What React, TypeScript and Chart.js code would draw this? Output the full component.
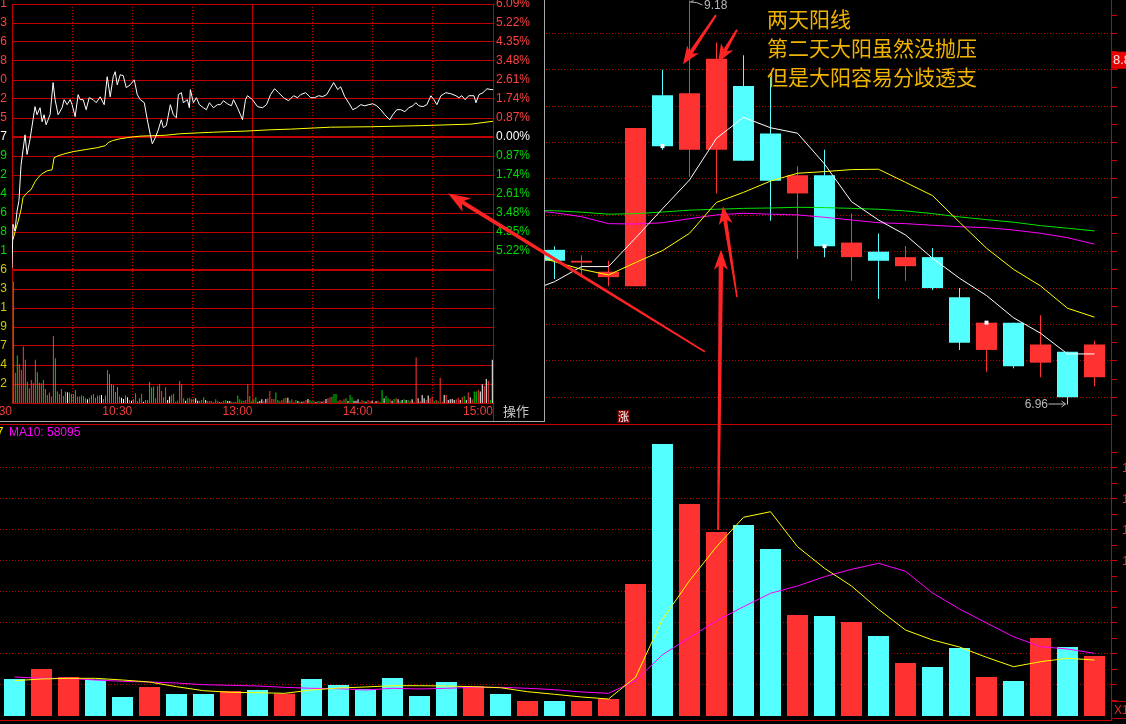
import React, { useEffect, useRef } from 'react';
import { Chart, registerables } from 'chart.js';

Chart.register(...registerables);

/* ===================== daily K-line (days 20..40 are visible; 0..19 lie under the intraday panel) ===================== */
const CANDLE_DAYS = [20, 21, 22, 23, 24, 25, 26, 27, 28, 29, 30, 31, 32, 33, 34, 35, 36, 37, 38, 39, 40];
const OPEN = [7.81, 7.74, 7.66, 7.61, 8.66, 8.36, 8.36, 8.71, 8.45, 8.12, 8.22, 7.77, 7.80, 7.72, 7.77, 7.55, 7.26, 7.41, 7.19, 7.25, 7.11];
const HIGH = [7.83, 7.78, 7.75, 8.48, 8.80, 9.18, 8.95, 8.88, 8.76, 8.27, 8.36, 8.01, 7.90, 7.83, 7.82, 7.60, 7.41, 7.41, 7.45, 7.25, 7.31];
const LOW = [7.65, 7.66, 7.61, 7.61, 8.36, 8.21, 8.12, 8.30, 7.97, 7.76, 7.77, 7.64, 7.54, 7.64, 7.59, 7.26, 7.14, 7.16, 7.11, 6.96, 7.06];
const CLOSE = [7.75, 7.75, 7.69, 8.48, 8.38, 8.67, 8.86, 8.30, 8.19, 8.22, 7.83, 7.85, 7.75, 7.77, 7.60, 7.30, 7.41, 7.17, 7.29, 7.00, 7.29];

const MA_DAYS = [19, 20, 21, 22, 23, 24, 25, 26, 27, 28, 29, 30, 31, 32, 33, 34, 35, 36, 37, 38, 39, 40];
const MA5 = [7.579, 7.635, 7.718, 7.718, 7.875, 8.036, 8.194, 8.423, 8.538, 8.481, 8.451, 8.282, 8.075, 7.974, 7.892, 7.764, 7.654, 7.559, 7.437, 7.352, 7.238, 7.238];
const MA10 = [7.793, 7.745, 7.703, 7.672, 7.740, 7.806, 7.901, 8.071, 8.126, 8.188, 8.231, 8.240, 8.251, 8.253, 8.181, 8.108, 7.962, 7.819, 7.703, 7.612, 7.489, 7.440];
const MA20 = [8.026, 8.025, 8.017, 8.006, 8.009, 8.018, 8.028, 8.033, 8.038, 8.040, 8.044, 8.042, 8.038, 8.033, 8.024, 8.009, 7.991, 7.976, 7.962, 7.943, 7.929, 7.914];
const MA60 = [8.029, 8.014, 7.992, 7.954, 7.952, 7.959, 7.981, 8.002, 8.011, 8.006, 8.002, 7.989, 7.974, 7.959, 7.954, 7.945, 7.937, 7.932, 7.919, 7.901, 7.877, 7.841];

const MARKED_DAYS = [24, 30, 36];
const SELECTED_DAY = 26; // day shown in the intraday panel
const LIMIT_UP_DAY = 23;
const PRICE_TICKS = [6.9, 7.0, 7.1, 7.2, 7.3, 7.4, 7.5, 7.6, 7.7, 7.8, 7.9, 8.0, 8.1, 8.2, 8.3, 8.4, 8.5, 8.6, 8.7, 8.8, 8.9, 9.0, 9.1];

/* ===================== daily volume ===================== */
const VOL_DAYS = [0, 1, 2, 3, 4, 5, 6, 7, 8, 9, 10, 11, 12, 13, 14, 15, 16, 17, 18, 19, 20, 21, 22, 23, 24, 25, 26, 27, 28, 29, 30, 31, 32, 33, 34, 35, 36, 37, 38, 39, 40];
const VOLUME = [23870, 30320, 25160, 23420, 12260, 18710, 14190, 14190, 16130, 16770, 14390, 23870, 20000, 17420, 24520, 12900, 21940, 19160, 14190, 9680, 9680, 9680, 10970, 85160, 175490, 136780, 118710, 123230, 107750, 65160, 64520, 60650, 51620, 34190, 31610, 43870, 25160, 22580, 50320, 44520, 38710];
const DAY_DIR = [-1, 1, 1, -1, -1, 1, -1, -1, 1, -1, 1, -1, -1, -1, -1, -1, -1, 1, -1, 1, -1, 1, 1, 1, -1, 1, 1, -1, -1, 1, -1, 1, -1, 1, -1, -1, 1, -1, 1, -1, 1];
const VOL_MA5 = [22770, 23870, 24300, 24300, 23220, 21930, 18900, 16320, 15290, 15030, 14640, 16770, 18060, 18710, 19540, 19540, 19350, 18900, 18250, 15670, 14000, 12260, 10970, 24960, 62370, 87270, 109200, 128160, 131770, 109200, 95270, 83850, 68820, 55470, 49020, 44510, 37860, 31800, 35020, 37220, 36120];
const VOL_MA10 = [25160, 24300, 24300, 23220, 22370, 21930, 21290, 20200, 19800, 19350, 18500, 17860, 17630, 16770, 17860, 17420, 17860, 18500, 18500, 17860, 17000, 15480, 14640, 22770, 39540, 50500, 61470, 70500, 79140, 83850, 89850, 94620, 98490, 93330, 79340, 69020, 59990, 51150, 44700, 43220, 40440];
const VOL_TICKS = [10000, 20000, 30000, 40000, 50000, 60000, 70000, 80000, 90000, 100000, 110000, 120000, 130000, 140000, 150000, 160000, 170000];

/* ===================== intraday panel (day 26) ===================== */
const PCT_TICKS = [6.09, 5.22, 4.35, 3.48, 2.61, 1.74, 0.87, 0, -0.87, -1.74, -2.61, -3.48, -4.35, -5.22];
const PCT_LEFT_LABELS = ['9.21', '9.13', '9.06', '8.98', '8.90', '8.82', '8.75', '8.67', '8.59', '8.52', '8.44', '8.36', '8.28', '8.21'];
const INTRA_VOL_TICKS = [7926, 6793, 5661, 4529, 3397, 2264, 1132];
const TIME_TICKS = [0, 30, 60, 90, 120, 150, 180, 210, 240];
const TIME_LABELS = ['9:30', '', '10:30', '', '13:00', '', '14:00', '', '15:00'];
const SESSION_BREAKS = [0, 120, 240];

const INTRA_MIN = [0, 0.5, 1.5, 2.5, 3.5, 4.5, 5.5, 6.5, 7.5, 9, 10.5, 11.5, 12.5, 14, 15, 16, 17, 19, 20.5, 21.5, 23, 25, 26, 27.5, 29, 30, 31.5, 33, 34, 35.5, 37, 38.5, 40.5, 42, 44, 46, 47.5, 49, 50.5, 51.5, 52.5, 54, 55.5, 57, 59, 61, 62.5, 64, 66, 67.5, 69, 70, 71.5, 73, 74.5, 75.5, 77, 79, 80.5, 82, 83, 84.5, 85.5, 87.5, 88.5, 89, 90.5, 92, 93.5, 95.5, 97, 98.5, 100.5, 102.5, 104, 105.5, 107.5, 109.5, 110.5, 112.5, 114, 115, 116.5, 117.5, 120, 122.5, 125, 127, 129, 131, 133, 135.5, 138, 140.5, 142.5, 144, 146.5, 149, 151, 153, 155, 157, 160.5, 162.5, 164, 166, 168, 170, 172, 174, 176, 178, 180, 182, 184, 186, 188.5, 190, 192, 194, 196, 198, 200, 201.5, 203, 205, 207, 209, 210.5, 212, 214, 216.5, 219, 221.5, 223, 224.5, 226, 228, 230.5, 231.5, 233, 235, 237, 239, 240];
const INTRA_PCT = [-6.0, -4.0, -4.3, -3.4, -2.9, -1.3, -0.6, 0.1, -0.8, -0.1, 0.8, 1.39, 1.02, 1.34, 0.70, 1.02, 0.56, 1.02, 2.49, 1.71, 1.02, 1.34, 1.71, 1.48, 1.71, 1.48, 0.93, 1.94, 1.71, 1.71, 1.25, 1.80, 1.71, 1.57, 1.84, 1.48, 2.76, 1.84, 2.76, 2.99, 2.39, 2.85, 2.81, 2.26, 2.39, 2.62, 1.94, 1.71, 1.57, 0.79, 0.11, -0.31, -0.03, 0.33, 0.79, 0.43, 0.52, 1.48, 1.02, 0.88, 1.94, 2.03, 1.57, 1.71, 1.34, 2.17, 1.57, 1.80, 1.48, 1.34, 1.25, 1.57, 1.34, 1.48, 1.48, 1.66, 1.52, 1.43, 1.71, 1.34, 1.02, 0.79, 1.71, 1.89, 1.71, 1.39, 1.34, 1.48, 1.94, 2.21, 2.03, 1.80, 1.66, 1.89, 1.80, 1.94, 2.03, 1.80, 1.80, 1.89, 1.85, 1.94, 2.49, 2.17, 2.30, 1.85, 1.57, 1.25, 1.34, 1.48, 1.43, 1.48, 1.52, 1.43, 1.25, 1.02, 0.79, 1.02, 1.25, 1.25, 1.16, 1.34, 1.43, 1.57, 1.43, 1.39, 1.48, 1.89, 1.71, 1.48, 1.89, 2.03, 1.98, 1.89, 1.80, 1.89, 1.71, 1.89, 1.89, 1.57, 1.94, 2.03, 2.21, 2.17, 2.17];
const AVG_MIN = [0.5, 1.5, 3, 4.5, 5.5, 7.5, 9.5, 11.5, 13, 15, 17.5, 20, 21, 23, 26.5, 30.5, 36.5, 42.5, 46.5, 48, 50, 54, 59, 64, 76.5, 84, 100.5, 116.5, 129, 139, 159, 179, 204, 229, 240];
const AVG_PCT = [-4.70, -4.34, -3.88, -3.33, -2.77, -2.55, -2.41, -2.05, -1.86, -1.68, -1.55, -1.50, -0.95, -0.86, -0.76, -0.67, -0.58, -0.49, -0.40, -0.26, -0.17, -0.08, -0.01, 0.04, 0.08, 0.15, 0.22, 0.27, 0.33, 0.36, 0.45, 0.47, 0.52, 0.59, 0.72];
const INTRA_VOL = [
  7240, 1810, 2830, 2330, 1970, 3360, 2570, 1270, 880, 1370, 1170, 2570, 1830, 1210, 1170, 1370, 840, 480, 620, 380,
  4000, 2670, 680, 540, 840, 420, 680, 640, 620, 540, 520, 780, 380, 380, 440, 420, 280, 220, 320, 460,
  540, 320, 440, 440, 480, 240, 440, 1970, 1730, 1130, 1070, 660, 960, 380, 320, 240, 440, 340, 180, 140,
  220, 580, 120, 280, 540, 80, 180, 180, 1250, 920, 980, 280, 1010, 1130, 720, 340, 940, 180, 380, 480,
  540, 80, 140, 1310, 1110, 280, 140, 280, 320, 220, 240, 280, 140, 140, 180, 340, 180, 120, 120, 120,
  60, 220, 120, 40, 80, 140, 180, 120, 120, 80, 60, 80, 440, 220, 140, 140, 180, 1110, 420, 120,
  220, 340, 80, 120, 220, 140, 240, 280, 720, 240, 240, 620, 180, 120, 180, 280, 320, 320, 140, 220,
  80, 180, 120, 80, 80, 120, 180, 240, 180, 120, 120, 60, 120, 120, 80, 140, 240, 280, 340, 380,
  540, 540, 140, 180, 140, 220, 280, 120, 480, 340, 140, 140, 220, 80, 180, 120, 80, 180, 120, 140,
  80, 120, 140, 80, 780, 280, 420, 280, 220, 140, 240, 280, 220, 140, 180, 220, 180, 180, 140, 220,
  80, 2710, 280, 120, 480, 280, 180, 440, 280, 380, 120, 180, 120, 1510, 80, 480, 480, 180, 220, 240,
  180, 220, 320, 180, 340, 420, 180, 620, 340, 220, 680, 680, 780, 680, 1110, 1010, 1430, 1310, 180, 2570,
];
const INTRA_DIR = [
  -1, 1, -1, 1, 1, 1, 1, -1, 1, 1, 1, 1, -1, 1, 1, -1, 1, -1, 1, 1,
  1, -1, -1, 1, 1, 1, -1, 0, -1, -1, -1, -1, 1, 1, -1, -1, -1, 0, 1, -1,
  1, -1, 1, 1, 0, -1, -1, 1, -1, 1, 1, 1, -1, 1, 0, 0, -1, 0, 1, 0,
  -1, 1, -1, -1, 1, 0, -1, -1, -1, -1, -1, 1, 1, 1, 1, -1, 1, 0, 0, 1,
  -1, -1, -1, 1, 1, -1, 0, -1, 1, -1, 1, 0, 0, -1, 1, -1, 0, 1, -1, 1,
  1, -1, 1, 0, 1, -1, -1, 0, 0, -1, -1, 1, -1, -1, -1, 1, 1, 1, -1, -1,
  -1, -1, 0, 0, 0, 1, 0, 1, 1, 1, 1, -1, -1, 1, 1, -1, 1, 0, -1, 1,
  1, -1, 0, -1, 0, 1, 1, 0, -1, -1, 1, 0, -1, 1, 0, 1, 0, 1, 1, -1,
  -1, -1, 1, 1, -1, 1, -1, 0, -1, -1, 0, 0, 0, 1, 1, -1, 0, 1, 1, 0,
  1, 0, 1, -1, -1, 0, -1, -1, 1, 0, -1, 1, 0, -1, 0, -1, 0, -1, 1, 0,
  1, 1, 0, 1, 0, 0, 1, 0, 1, 1, -1, 1, -1, 1, 1, 0, 1, 0, 0, 0,
  0, 1, 1, 0, 1, -1, 0, 1, 0, 1, -1, -1, 1, 0, 0, 1, 0, 1, -1, 0,
];

/* ===================== annotations ===================== */
const NOTE_LINES = ['两天阳线', '第二天大阳虽然没抛压', '但是大阳容易分歧透支'];
// hand-drawn arrows, in (day index, price) of the K-line chart
const ARROWS = [
  { from: [25.57, 7.25], to: [16.06, 8.12], w0: 1.5, w1: 4, head: 22, half: 8 },
  { from: [25.98, 9.10], to: [24.76, 8.83], w0: 2, w1: 4, head: 18, half: 7 },
  { from: [26.76, 9.02], to: [26.06, 8.84], w0: 2, w1: 4, head: 18, half: 7 },
  { from: [26.06, 6.27], to: [26.17, 7.81], w0: 2, w1: 4.5, head: 20, half: 7 },
  { from: [26.76, 7.55], to: [26.24, 8.05], w0: 1.5, w1: 4, head: 18, half: 7 },
];

/* ===================== layout / style constants ===================== */
const X_MIN = -14.5 / 27;
const X_MAX = 1096.5 / 27;
const PRICE_MAX = 9.183;
const PRICE_MIN = 6.853;
const VOL_MAX = 187700;
const VOL_MIN = -2580;
const PCT_MAX = 6.09;
const PCT_MIN = -12.18;
const IVOL_MAX = 23778;

const UP = '#ff3232';
const DOWN = '#54ffff';
const AXIS_RED = '#c80000';
const DOT_RED = '#b80000';
const GRID_RED = '#c00000';
const GREY = '#b8b8b8';
const NUM_FONT = '"Liberation Sans", Arial, sans-serif';
const CJK_FONT = '"Noto Sans CJK SC", "Noto Sans", sans-serif';

const zeroPad = (s: any) => {
  s.paddingLeft = 0;
  s.paddingRight = 0;
  s.paddingTop = 0;
  s.paddingBottom = 0;
};
const pctColor = (v: number) => (v > 0.001 ? '#ff4040' : v < -0.001 ? '#00dc00' : '#ffffff');
const isMajorPrice = (v: number) => Math.abs(Math.round(v * 10)) % 2 === 0;

function drawArrow(ctx: any, x1: number, y1: number, x2: number, y2: number, w0: number, w1: number, head: number, half: number) {
  const len = Math.hypot(x2 - x1, y2 - y1);
  const ux = (x2 - x1) / len;
  const uy = (y2 - y1) / len;
  const nx = -uy;
  const ny = ux;
  const bx = x2 - ux * head * 0.7;
  const by = y2 - uy * head * 0.7;
  ctx.beginPath();
  ctx.moveTo(x1 + (nx * w0) / 2, y1 + (ny * w0) / 2);
  ctx.lineTo(bx + (nx * w1) / 2, by + (ny * w1) / 2);
  ctx.lineTo(bx - (nx * w1) / 2, by - (ny * w1) / 2);
  ctx.lineTo(x1 - (nx * w0) / 2, y1 - (ny * w0) / 2);
  ctx.closePath();
  ctx.fill();
  const hx = x2 - ux * head;
  const hy = y2 - uy * head;
  ctx.beginPath();
  ctx.moveTo(x2, y2);
  ctx.lineTo(hx + nx * half, hy + ny * half);
  ctx.lineTo(x2 - ux * head * 0.72, y2 - uy * head * 0.72);
  ctx.lineTo(hx - nx * half, hy - ny * half);
  ctx.closePath();
  ctx.fill();
}

const dayX = (cfgHeight: number) => ({
  type: 'linear',
  min: X_MIN,
  max: X_MAX,
  offset: false,
  grid: { display: false, offset: false },
  ticks: { display: false },
  border: { display: true, color: AXIS_RED, width: 1 },
  afterFit: (s: any) => {
    s.height = cfgHeight;
    zeroPad(s);
  },
});

const maLine = (label: string, values: number[], color: string) => ({
  type: 'line',
  label,
  data: MA_DAYS.map((d, i) => ({ x: d, y: values[i] })),
  borderColor: color,
  borderWidth: 1,
  pointRadius: 0,
  tension: 0,
});

export default function App() {
  const priceRef = useRef<HTMLCanvasElement>(null);
  const volRef = useRef<HTMLCanvasElement>(null);
  const intraRef = useRef<HTMLCanvasElement>(null);
  const overlayRef = useRef<HTMLCanvasElement>(null);

  useEffect(() => {
    const charts: any[] = [];
    const candleColors = CANDLE_DAYS.map((_, i) => (CLOSE[i] >= OPEN[i] ? UP : DOWN));

    /* ---------- K-line chart ---------- */
    const priceExtras = {
      id: 'priceExtras',
      afterDatasetsDraw(chart: any) {
        const { ctx, chartArea } = chart;
        const x = chart.scales.x;
        const y = chart.scales.y;
        let hi = 0;
        let lo = 0;
        HIGH.forEach((v, i) => { if (v > HIGH[hi]) hi = i; });
        LOW.forEach((v, i) => { if (v < LOW[lo]) lo = i; });
        ctx.save();
        ctx.strokeStyle = GREY;
        ctx.fillStyle = GREY;
        ctx.lineWidth = 1;
        ctx.font = `12px ${NUM_FONT}`;
        ctx.textBaseline = 'middle';
        // highest price label
        const hx = x.getPixelForValue(CANDLE_DAYS[hi]);
        const hy = y.getPixelForValue(HIGH[hi]);
        ctx.beginPath();
        ctx.moveTo(hx + 1, hy + 1.5);
        ctx.lineTo(hx + 7, hy + 2);
        ctx.lineTo(hx + 13, hy + 4.5);
        ctx.moveTo(hx + 1, hy + 1.5);
        ctx.lineTo(hx + 4, hy + 0);
        ctx.stroke();
        ctx.textAlign = 'left';
        ctx.fillText(HIGH[hi].toFixed(2), hx + 14.5, hy + 5);
        // lowest price label
        const lx = x.getPixelForValue(CANDLE_DAYS[lo]);
        const ly = y.getPixelForValue(LOW[lo]);
        ctx.textAlign = 'right';
        ctx.fillText(LOW[lo].toFixed(2), lx - 19.5, ly + 0.5);
        ctx.beginPath();
        ctx.moveTo(lx - 19, ly - 0.5);
        ctx.lineTo(lx - 2, ly - 0.5);
        ctx.moveTo(lx - 6, ly - 3.5);
        ctx.lineTo(lx - 2, ly - 0.5);
        ctx.lineTo(lx - 6, ly + 2.5);
        ctx.stroke();
        // limit-up tag
        const ux = x.getPixelForValue(LIMIT_UP_DAY);
        ctx.fillStyle = '#7a0000';
        ctx.fillRect(ux - 18, chartArea.bottom - 14, 12, 13);
        ctx.fillStyle = '#ffffff';
        ctx.font = `11px ${CJK_FONT}`;
        ctx.textAlign = 'center';
        ctx.fillText('涨', ux - 12, chartArea.bottom - 7.5);
        ctx.restore();
      },
      afterDraw(chart: any) {
        const { ctx, chartArea } = chart;
        const c = CLOSE[CANDLE_DAYS.indexOf(SELECTED_DAY)];
        const py = chart.scales.y.getPixelForValue(c) + 1.5;
        ctx.save();
        ctx.fillStyle = '#e60000';
        ctx.fillRect(chartArea.right + 1, py - 8.5, 40, 17);
        ctx.fillStyle = '#ffe6e6';
        ctx.font = `13px ${NUM_FONT}`;
        ctx.textBaseline = 'middle';
        ctx.textAlign = 'left';
        ctx.fillText(c.toFixed(2), chartArea.right + 2, py + 0.5);
        ctx.restore();
      },
    };

    const price = new Chart(priceRef.current as any, {
      type: 'bar',
      data: {
        datasets: [
          maLine('MA5', MA5, '#ffffff'),
          maLine('MA10', MA10, '#ffff00'),
          maLine('MA20', MA20, '#00e600'),
          maLine('MA60', MA60, '#ff00ff'),
          {
            type: 'line',
            label: 'marks',
            data: MARKED_DAYS.map((d) => ({ x: d, y: CLOSE[CANDLE_DAYS.indexOf(d)] })),
            showLine: false,
            pointStyle: 'rect',
            pointRadius: 2.8,
            pointBackgroundColor: '#ffffff',
            pointBorderWidth: 0,
          },
          {
            type: 'bar',
            label: 'body',
            data: CANDLE_DAYS.map((d, i) => ({ x: d, y: [OPEN[i], CLOSE[i]] })),
            backgroundColor: candleColors,
            grouped: false,
            barThickness: 21,
            maxBarThickness: 21,
            borderWidth: 0,
            inflateAmount: 0,
          },
          {
            type: 'bar',
            label: 'wick',
            data: CANDLE_DAYS.map((d, i) => ({ x: d, y: [LOW[i], HIGH[i]] })),
            backgroundColor: candleColors,
            grouped: false,
            barThickness: 1,
            maxBarThickness: 1,
            borderWidth: 0,
            inflateAmount: 0,
          },
        ] as any,
      },
      options: {
        responsive: false,
        animation: false,
        devicePixelRatio: 1,
        layout: { autoPadding: false, padding: 0 },
        plugins: { legend: { display: false }, tooltip: { enabled: false } },
        scales: {
          x: dayX(1),
          y: {
            type: 'linear',
            position: 'right',
            min: PRICE_MIN,
            max: PRICE_MAX,
            afterBuildTicks: (s: any) => { s.ticks = PRICE_TICKS.map((v) => ({ value: v })); },
            afterFit: (s: any) => { s.width = 15; zeroPad(s); },
            ticks: { display: false },
            grid: {
              color: (c: any) => (c.tick && isMajorPrice(c.tick.value) ? DOT_RED : 'transparent'),
              lineWidth: 1,
              drawTicks: true,
              tickLength: 6,
              tickColor: AXIS_RED,
              tickWidth: 1,
            },
            border: { display: true, color: AXIS_RED, width: 1, dash: [1, 2] },
          },
        } as any,
      },
      plugins: [priceExtras],
    } as any);
    charts.push(price);

    /* ---------- volume chart ---------- */
    const vol = new Chart(volRef.current as any, {
      type: 'bar',
      data: {
        datasets: [
          {
            type: 'line',
            label: 'VOL MA5',
            data: VOL_DAYS.map((d, i) => ({ x: d, y: VOL_MA5[i] })),
            borderColor: '#ffff00',
            borderWidth: 1,
            pointRadius: 0,
            tension: 0,
          },
          {
            type: 'line',
            label: 'VOL MA10',
            data: VOL_DAYS.map((d, i) => ({ x: d, y: VOL_MA10[i] })),
            borderColor: '#ff00ff',
            borderWidth: 1,
            pointRadius: 0,
            tension: 0,
          },
          {
            type: 'bar',
            label: 'VOL',
            data: VOL_DAYS.map((d, i) => ({ x: d, y: VOLUME[i] })),
            backgroundColor: DAY_DIR.map((v) => (v > 0 ? UP : DOWN)),
            barThickness: 21,
            maxBarThickness: 21,
            borderWidth: 0,
            inflateAmount: 0,
          },
        ] as any,
      },
      options: {
        responsive: false,
        animation: false,
        devicePixelRatio: 1,
        layout: { autoPadding: false, padding: 0 },
        plugins: { legend: { display: false }, tooltip: { enabled: false } },
        scales: {
          x: dayX(4),
          y: {
            type: 'linear',
            position: 'right',
            min: VOL_MIN,
            max: VOL_MAX,
            afterBuildTicks: (s: any) => { s.ticks = VOL_TICKS.map((v) => ({ value: v })); },
            afterFit: (s: any) => { s.width = 15; zeroPad(s); },
            ticks: {
              display: true,
              autoSkip: false,
              color: '#e83030',
              font: { family: NUM_FONT, size: 13 },
              padding: 5,
              crossAlign: 'center',
              callback: (v: any) => (v % 20000 === 0 && v <= 160000 ? String(v) : ''),
            },
            grid: {
              color: (c: any) => (c.tick && c.tick.value % 20000 === 0 && c.tick.value <= 160000 ? DOT_RED : 'transparent'),
              lineWidth: 1,
              drawTicks: true,
              tickLength: 6,
              tickColor: AXIS_RED,
              tickWidth: 1,
            },
            border: { display: true, color: AXIS_RED, width: 1, dash: [1, 2] },
          },
        } as any,
      },
    } as any);
    charts.push(vol);

    /* ---------- intraday panel ---------- */
    const intraExtras = {
      id: 'intraExtras',
      afterDraw(chart: any) {
        const { ctx, chartArea } = chart;
        ctx.save();
        ctx.font = `12px ${NUM_FONT}`;
        ctx.textAlign = 'right';
        ctx.textBaseline = 'middle';
        const lx = chartArea.left - 5;
        PCT_TICKS.forEach((v, i) => {
          ctx.fillStyle = pctColor(v);
          ctx.fillText(PCT_LEFT_LABELS[i], lx, chart.scales.y.getPixelForValue(v));
        });
        INTRA_VOL_TICKS.forEach((v) => {
          ctx.fillStyle = '#cccc00';
          ctx.fillText(String(v), lx, chart.scales.yVol.getPixelForValue(v));
        });
        ctx.strokeStyle = GRID_RED;
        ctx.lineWidth = 1;
        ctx.beginPath();
        ctx.moveTo(Math.round(chartArea.right) + 0.5, chartArea.bottom);
        ctx.lineTo(Math.round(chartArea.right) + 0.5, chart.height);
        ctx.stroke();
        ctx.restore();
      },
    };

    const n = Math.min(INTRA_MIN.length, INTRA_PCT.length);
    const intra = new Chart(intraRef.current as any, {
      type: 'bar',
      data: {
        datasets: [
          {
            type: 'line',
            label: 'price',
            data: INTRA_MIN.slice(0, n).map((m, i) => ({ x: m, y: INTRA_PCT[i] })),
            borderColor: '#ffffff',
            borderWidth: 1,
            pointRadius: 0,
            tension: 0,
            yAxisID: 'y',
          },
          {
            type: 'line',
            label: 'avg',
            data: AVG_MIN.map((m, i) => ({ x: m, y: AVG_PCT[i] })),
            borderColor: '#ffff00',
            borderWidth: 1,
            pointRadius: 0,
            tension: 0,
            yAxisID: 'y',
          },
          {
            type: 'bar',
            label: 'volume',
            data: INTRA_VOL.map((v, i) => ({ x: i + 0.65, y: v })),
            backgroundColor: INTRA_DIR.map((d) => (d > 0 ? '#ff3c3c' : d < 0 ? '#00d400' : '#ffffff')),
            barThickness: 1,
            maxBarThickness: 1,
            borderWidth: 0,
            inflateAmount: 0,
            yAxisID: 'yVol',
          },
        ] as any,
      },
      options: {
        responsive: false,
        animation: false,
        devicePixelRatio: 1,
        layout: { autoPadding: false, padding: { left: 12, top: 4, right: 0, bottom: 0 } },
        plugins: { legend: { display: false }, tooltip: { enabled: false } },
        scales: {
          x: {
            type: 'linear',
            min: 0,
            max: 240,
            offset: false,
            afterBuildTicks: (s: any) => { s.ticks = TIME_TICKS.map((v) => ({ value: v })); },
            afterFit: (s: any) => { s.height = 18; zeroPad(s); },
            ticks: {
              autoSkip: false,
              maxRotation: 0,
              minRotation: 0,
              align: 'end',
              padding: 1,
              color: '#f03c3c',
              font: { family: NUM_FONT, size: 12 },
              callback: (v: any) => TIME_LABELS[TIME_TICKS.indexOf(v)] ?? '',
            },
            grid: { display: true, offset: false, drawTicks: false, color: GRID_RED, lineWidth: 1 },
            border: {
              display: true,
              color: GRID_RED,
              width: 1,
              dash: (c: any) => (c.tick && SESSION_BREAKS.includes(c.tick.value) ? [] : [1, 2]),
            },
          },
          yVol: {
            type: 'linear',
            position: 'right',
            weight: 0,
            min: 0,
            max: IVOL_MAX,
            afterBuildTicks: (s: any) => { s.ticks = [...INTRA_VOL_TICKS].sort((a, b) => a - b).map((v) => ({ value: v })); },
            afterFit: (s: any) => { s.width = 0; zeroPad(s); },
            ticks: {
              autoSkip: false,
              padding: 3,
              color: '#cccc00',
              font: { family: NUM_FONT, size: 12 },
              callback: (v: any) => String(v),
            },
            grid: {
              drawTicks: false,
              color: GRID_RED,
              lineWidth: (c: any) => (c.tick && c.tick.value === INTRA_VOL_TICKS[0] ? 2 : 1),
            },
            border: { display: true, color: GRID_RED, width: 1 },
          },
          y: {
            type: 'linear',
            position: 'right',
            weight: 1,
            min: PCT_MIN,
            max: PCT_MAX,
            afterBuildTicks: (s: any) => { s.ticks = [...PCT_TICKS].sort((a, b) => a - b).map((v) => ({ value: v })); },
            afterFit: (s: any) => { s.width = 51; zeroPad(s); },
            ticks: {
              autoSkip: false,
              padding: 3,
              color: (c: any) => pctColor(c.tick ? c.tick.value : 0),
              font: { family: NUM_FONT, size: 12 },
              callback: (v: any) => Math.abs(v).toFixed(2) + '%',
            },
            grid: {
              drawTicks: false,
              color: GRID_RED,
              lineWidth: (c: any) => (c.tick && c.tick.value === 0 ? 2 : 1),
            },
            border: { display: true, color: GRID_RED, width: 1 },
          },
        } as any,
      },
      plugins: [intraExtras],
    } as any);
    charts.push(intra);

    /* ---------- arrows overlay ---------- */
    const ov = overlayRef.current as HTMLCanvasElement;
    const octx = ov.getContext('2d') as any;
    octx.clearRect(0, 0, ov.width, ov.height);
    octx.fillStyle = '#ff2424';
    const px = (price as any).scales.x;
    const py = (price as any).scales.y;
    ARROWS.forEach((a) => {
      drawArrow(
        octx,
        px.getPixelForValue(a.from[0]),
        py.getPixelForValue(a.from[1]),
        px.getPixelForValue(a.to[0]),
        py.getPixelForValue(a.to[1]),
        a.w0,
        a.w1,
        a.head,
        a.half,
      );
    });

    return () => {
      charts.forEach((c) => c.destroy());
      octx.clearRect(0, 0, ov.width, ov.height);
    };
  }, []);

  return (
    <div style={{ position: 'fixed', left: 0, top: 0, width: 1126, height: 724, background: '#000', overflow: 'hidden' }}>
      <canvas ref={priceRef} width={1126} height={425} style={{ position: 'absolute', left: 0, top: 0, display: 'block' }} />
      <canvas ref={volRef} width={1126} height={299} style={{ position: 'absolute', left: 0, top: 425, display: 'block' }} />
      <div
        style={{
          position: 'absolute',
          left: 0,
          top: 0,
          width: 544,
          height: 421,
          background: '#000',
          borderRight: '1px solid #a8a8a8',
          borderBottom: '1px solid #a8a8a8',
        }}
      >
        <canvas ref={intraRef} width={544} height={421} style={{ display: 'block' }} />
        <div style={{ position: 'absolute', left: 503, top: 404, font: `13px ${CJK_FONT}`, lineHeight: '13px', color: '#c8c8c8', whiteSpace: 'nowrap' }}>
          操作
        </div>
      </div>
      <canvas ref={overlayRef} width={1126} height={724} style={{ position: 'absolute', left: 0, top: 0, pointerEvents: 'none' }} />
      {NOTE_LINES.map((t, i) => (
        <div
          key={i}
          style={{
            position: 'absolute',
            left: 767,
            top: 8 + i * 29,
            font: `21px ${CJK_FONT}`,
            lineHeight: '21px',
            color: '#f0b400',
            whiteSpace: 'nowrap',
          }}
        >
          {t}
        </div>
      ))}
      <div style={{ position: 'absolute', left: -80, width: 83.5, top: 426, textAlign: 'right', font: `12px ${NUM_FONT}`, lineHeight: '12px', color: '#ffff00', whiteSpace: 'nowrap' }}>
        MA5: 36257
      </div>
      <div style={{ position: 'absolute', left: 9, top: 426, font: `12px ${NUM_FONT}`, lineHeight: '12px', color: '#ff00ff', whiteSpace: 'nowrap' }}>
        MA10: 58095
      </div>
      <div
        style={{
          position: 'absolute',
          left: 1111,
          top: 701,
          width: 16,
          height: 18,
          boxSizing: 'border-box',
          border: '1px solid #c00000',
          color: '#e02828',
          font: `12px ${NUM_FONT}`,
          lineHeight: '16px',
          paddingLeft: 2,
          whiteSpace: 'nowrap',
          overflow: 'hidden',
        }}
      >
        X1
      </div>
    </div>
  );
}
